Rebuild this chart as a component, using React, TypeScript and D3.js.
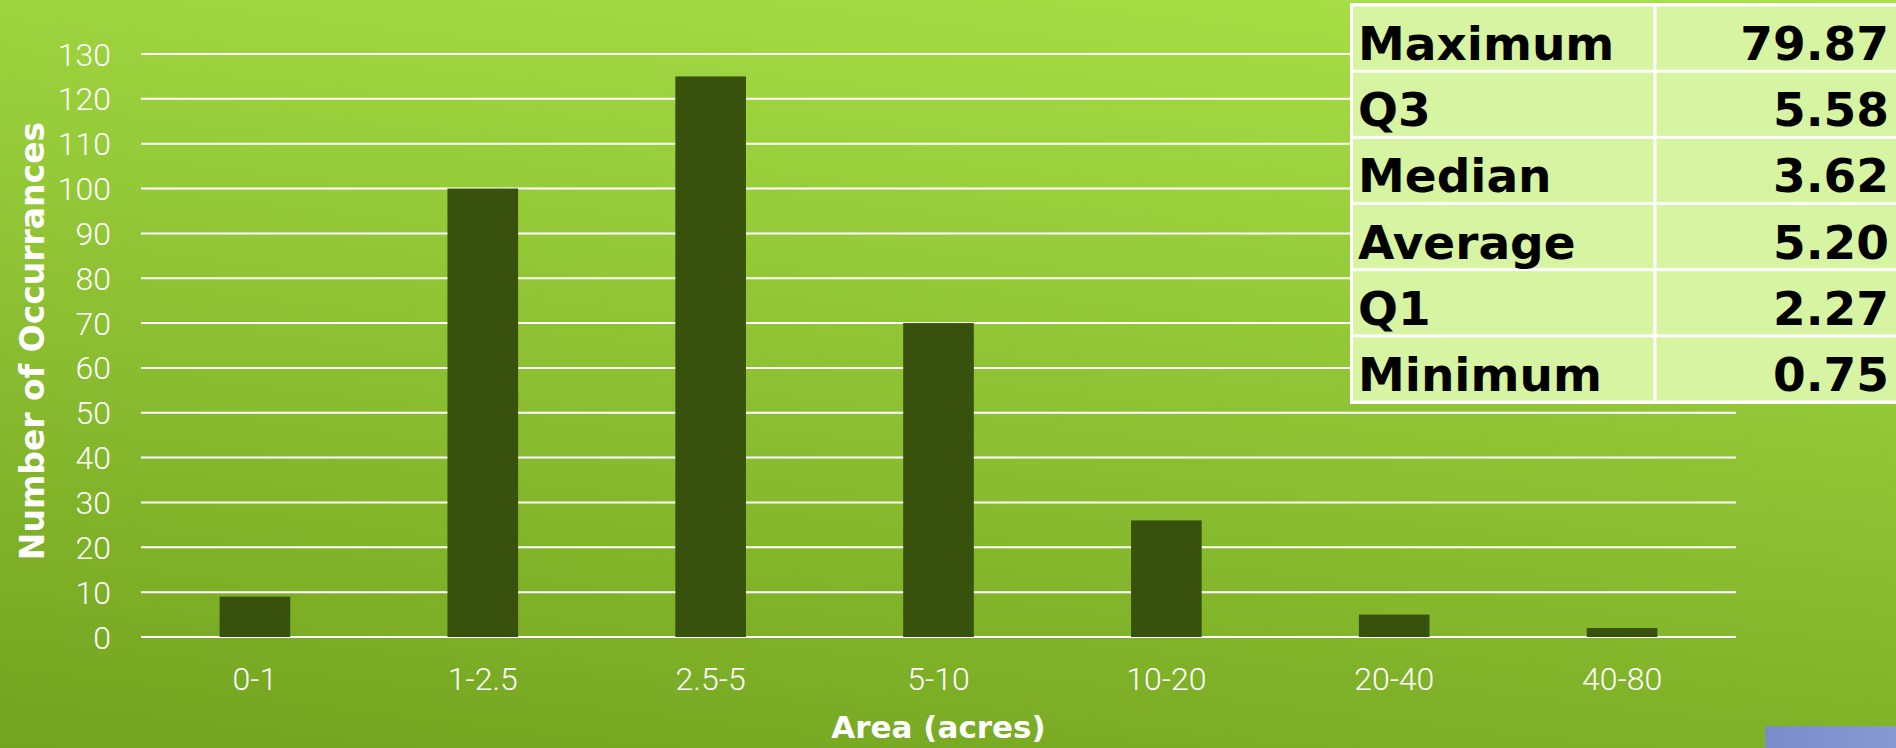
import React from "react";
import * as d3 from "d3";

const categories = ["0-1", "1-2.5", "2.5-5", "5-10", "10-20", "20-40", "40-80"];
const counts = [9, 100, 125, 70, 26, 5, 2];
const yTicks = [0, 10, 20, 30, 40, 50, 60, 70, 80, 90, 100, 110, 120, 130];
const statLabels = ["Maximum", "Q3", "Median", "Average", "Q1", "Minimum"];
const statValues = ["79.87", "5.58", "3.62", "5.20", "2.27", "0.75"];

const W = 1896;
const H = 748;

export default function App() {
  const x = d3
    .scaleBand<string>()
    .domain(categories)
    .range([141, 1736])
    .paddingInner(0.69)
    .paddingOuter(0.345);
  const y = d3.scaleLinear().domain([0, 130]).range([637, 54]);
  const rows = d3.scaleBand<string>().domain(statLabels).range([5, 402]);
  const tickFont = "Roboto, 'Open Sans', sans-serif";
  const boldFont = "'DejaVu Sans', Verdana, sans-serif";

  return (
    <svg
      width={W}
      height={H}
      style={{ position: "absolute", left: 0, top: 0, display: "block" }}
    >
      <defs>
        <linearGradient id="bg" gradientUnits="userSpaceOnUse" x1={1896} y1={0} x2={1781} y2={962}>
          <stop offset="0" stopColor="rgb(170,226,72)" />
          <stop offset="1" stopColor="rgb(115,163,31)" />
        </linearGradient>
        <linearGradient id="blue" x1="0" y1="0" x2="1" y2="0">
          <stop offset="0" stopColor="#7b8cca" />
          <stop offset="1" stopColor="#8798d2" />
        </linearGradient>
      </defs>
      <rect x={0} y={0} width={W} height={H} fill="url(#bg)" />

      {/* gridlines */}
      {yTicks.map((t) => (
        <line key={t} x1={141} x2={1736} y1={y(t)} y2={y(t)} stroke="#ffffff" strokeWidth={2} />
      ))}

      {/* y tick labels */}
      {yTicks.map((t) => (
        <text
          key={"l" + t}
          x={111}
          y={y(t)}
          dy="0.36em"
          textAnchor="end"
          fill="#ffffff"
          fontFamily={tickFont}
          fontWeight={300}
          fontSize={32}
        >
          {t}
        </text>
      ))}

      {/* bars */}
      {categories.map((c, i) => (
        <rect
          key={c}
          x={x(c)}
          y={y(counts[i])}
          width={x.bandwidth()}
          height={y(0) - y(counts[i])}
          fill="#38520d"
        />
      ))}

      {/* x tick labels */}
      {categories.map((c) => (
        <text
          key={"x" + c}
          x={(x(c) as number) + x.bandwidth() / 2}
          y={690}
          textAnchor="middle"
          fill="#ffffff"
          fontFamily={tickFont}
          fontWeight={300}
          fontSize={32}
        >
          {c}
        </text>
      ))}

      {/* axis titles */}
      <text
        x={(x.range()[0] + x.range()[1]) / 2}
        y={738}
        textAnchor="middle"
        fill="#ffffff"
        fontFamily={boldFont}
        fontWeight="bold"
        fontSize={31}
      >
        Area (acres)
      </text>
      <text
        transform="translate(44,341) rotate(-90)"
        textAnchor="middle"
        fill="#ffffff"
        fontFamily={boldFont}
        fontWeight="bold"
        fontSize={33}
      >
        Number of Occurrances
      </text>

      {/* stats table */}
      <rect x={1350} y={3} width={W - 1350} height={401} fill="#ffffff" />
      {statLabels.map((s, i) => {
        const top = rows(s) as number;
        const h = rows.bandwidth();
        return (
          <g key={s}>
            <rect x={1353} y={top + 1.5} width={1655 - 1353 - 1.5} height={h - 3} fill="#d6f4a1" />
            <rect x={1656.5} y={top + 1.5} width={W - 1656.5} height={h - 3} fill="#d6f4a1" />
            <text
              x={1358}
              y={top + 55}
              fill="#000000"
              fontFamily={boldFont}
              fontWeight="bold"
              fontSize={47}
            >
              {s}
            </text>
            <text
              x={1889}
              y={top + 55}
              textAnchor="end"
              fill="#000000"
              fontFamily={boldFont}
              fontWeight="bold"
              fontSize={47}
            >
              {statValues[i]}
            </text>
          </g>
        );
      })}

      {/* decorative blue block at bottom right */}
      <rect x={1765} y={726} width={W - 1765} height={H - 726} fill="url(#blue)" />
    </svg>
  );
}
